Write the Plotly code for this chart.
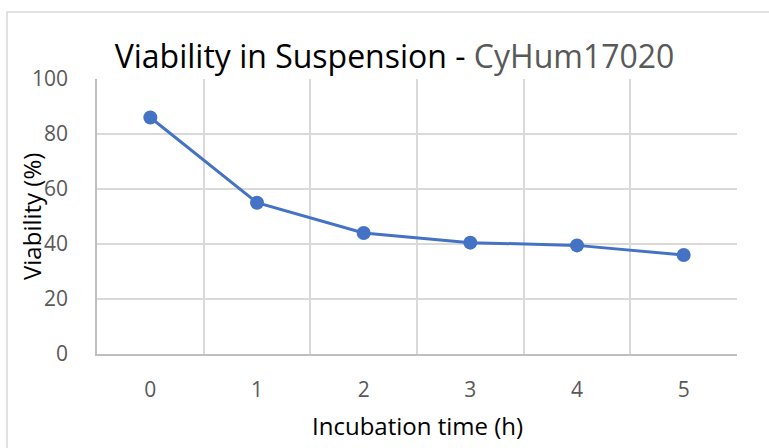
import plotly.graph_objects as go

hours = ["0", "1", "2", "3", "4", "5"]
viability = [86, 55, 44, 40.5, 39.5, 36]
y_ticks = [0, 20, 40, 60, 80, 100]

FONT = "Open Sans"
L, R, T, B = 97, 737, 79, 354
PW, PH = R - L, B - T

fig = go.Figure()
fig.add_trace(go.Scatter(
    x=hours, y=viability, mode="lines+markers",
    line=dict(color="#4472C4", width=3),
    marker=dict(color="#4472C4", size=14),
    showlegend=False,
))

fig.update_layout(
    width=769, height=448,
    margin=dict(l=L, r=769 - R, t=T, b=448 - B),
    paper_bgcolor="white", plot_bgcolor="white",
    font=dict(family=FONT, color="#595959"),
    title=dict(
        text="<span style='color:#000000'>Viability in Suspension - </span><span style='color:#595959'>CyHum17020</span>",
        xref="container", x=394.5 / 769, xanchor="center",
        yref="container", y=1 - 57 / 448, yanchor="middle",
        font=dict(family=FONT, size=32),
    ),
    shapes=[dict(type="rect", xref="paper", yref="paper",
                 x0=(7 - L) / PW, x1=1.2, y0=-0.5, y1=(B - 12) / PH,
                 line=dict(color="#d9d9d9", width=1.5))],
    annotations=[
        dict(text="Incubation time (h)", xref="paper", yref="paper",
             x=(417 - L) / PW, y=(B - 425) / PH, xanchor="center", yanchor="middle",
             showarrow=False, font=dict(size=24, color="#000000")),
        dict(text="Viability (%)", xref="paper", yref="paper", textangle=-90,
             x=(31 - L) / PW, y=(B - 217) / PH, xanchor="center", yanchor="middle",
             showarrow=False, font=dict(size=24, color="#000000")),
    ],
)
fig.update_xaxes(
    type="category", tickson="boundaries", ticks="", ticklen=0,
    showgrid=True, gridcolor="#d9d9d9", gridwidth=1.5,
    showline=True, linecolor="#bfbfbf", linewidth=1.5,
    tickfont=dict(size=21, color="#595959"),
    ticklabelstandoff=16,
    range=[-0.5, 5.5],
)
fig.update_yaxes(
    range=[0, 100], tickvals=y_ticks,
    showgrid=True, gridcolor="#d9d9d9", gridwidth=1.5,
    showline=True, linecolor="#bfbfbf", linewidth=1.5,
    zeroline=False, ticks="",
    tickfont=dict(size=21, color="#595959"),
    ticklabelstandoff=23,
)
fig.write_html("out.html", post_script="document.body.style.margin='0';",
               config={"displayModeBar": False})
